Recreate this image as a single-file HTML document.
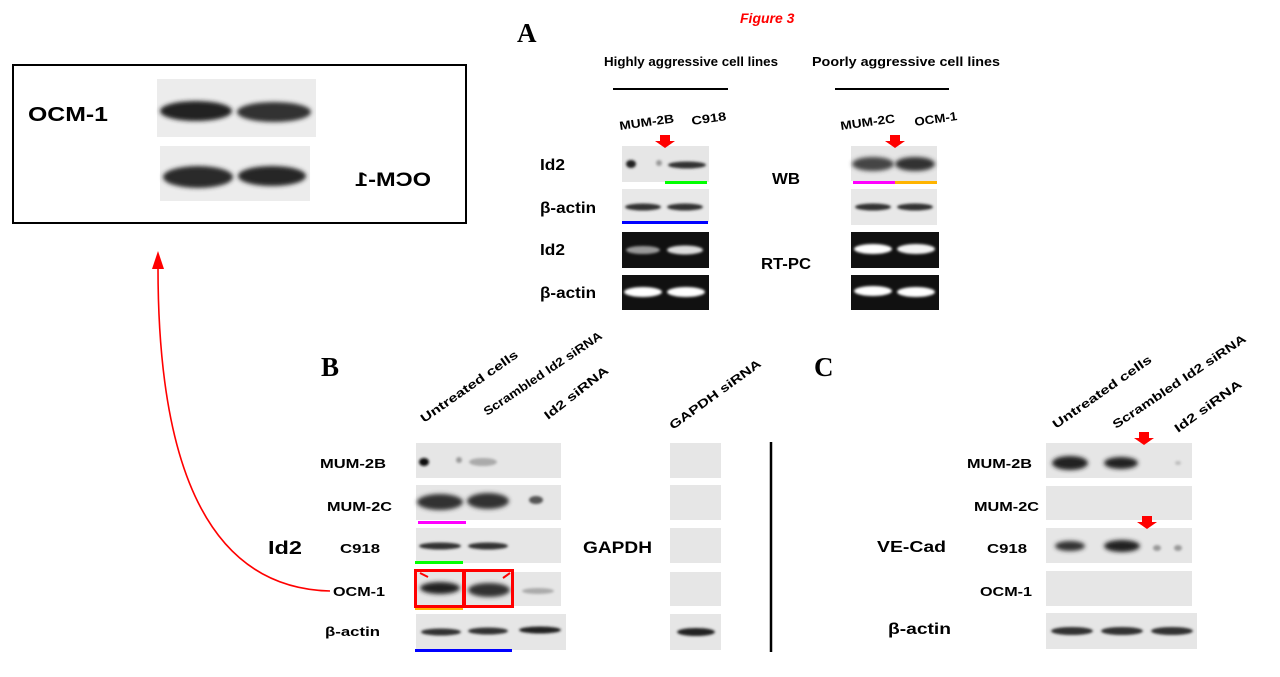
<!DOCTYPE html>
<html><head><meta charset="utf-8"><style>
html,body{margin:0;padding:0;background:#fff;}
svg{display:block;font-family:"Liberation Sans",Arial,sans-serif;font-weight:bold;}
</style></head><body>
<svg width="1280" height="677" viewBox="0 0 1280 677" xmlns="http://www.w3.org/2000/svg">
<defs>
<filter id="b" x="-50%" y="-100%" width="200%" height="300%"><feGaussianBlur stdDeviation="2.2"/></filter>
<filter id="b2" x="-50%" y="-100%" width="200%" height="300%"><feGaussianBlur stdDeviation="1.2"/></filter>
</defs>

<!-- Inset box -->
<rect x="13" y="65" width="453" height="158" fill="none" stroke="#000" stroke-width="2"/>
<rect x="157" y="79" width="159" height="58" fill="#ececec"/>
<ellipse cx="196" cy="111" rx="36" ry="10" fill="#222" filter="url(#b)"/>
<ellipse cx="274" cy="112" rx="37" ry="10" fill="#333" filter="url(#b)"/>
<rect x="160" y="146" width="150" height="55" fill="#ececec"/>
<ellipse cx="198" cy="177" rx="35" ry="11" fill="#2a2a2a" filter="url(#b)"/>
<ellipse cx="272" cy="176" rx="34" ry="10" fill="#262626" filter="url(#b)"/>
<text x="28" y="121" font-size="20" textLength="80" lengthAdjust="spacingAndGlyphs">OCM-1</text>
<text transform="translate(431,186) scale(-1,1)" x="0" y="0" font-size="19" textLength="76" lengthAdjust="spacingAndGlyphs">OCM-1</text>

<!-- red connector -->
<path d="M330,591 C210,588 158,470 158,268" fill="none" stroke="#f00" stroke-width="1.6"/>
<polygon points="152,269 164,269 158,251" fill="#f00"/>

<!-- Panel A -->
<text x="517" y="42" font-size="27" font-family="Liberation Serif,serif">A</text>
<text x="740" y="23" font-size="14" fill="#f00" font-style="italic">Figure 3</text>
<text x="604" y="66" font-size="13" textLength="174" lengthAdjust="spacingAndGlyphs">Highly aggressive cell lines</text>
<text x="812" y="66" font-size="13" textLength="188" lengthAdjust="spacingAndGlyphs">Poorly aggressive cell lines</text>
<line x1="613" y1="89" x2="728" y2="89" stroke="#000" stroke-width="2"/>
<line x1="835" y1="89" x2="949" y2="89" stroke="#000" stroke-width="2"/>
<text x="620" y="130" font-size="12" transform="rotate(-8 620 130)" textLength="55" lengthAdjust="spacingAndGlyphs">MUM-2B</text>
<text x="692" y="125" font-size="12" transform="rotate(-8 692 125)" textLength="35" lengthAdjust="spacingAndGlyphs">C918</text>
<text x="841" y="130" font-size="12" transform="rotate(-8 841 130)" textLength="55" lengthAdjust="spacingAndGlyphs">MUM-2C</text>
<text x="915" y="126" font-size="12" transform="rotate(-8 915 126)" textLength="43" lengthAdjust="spacingAndGlyphs">OCM-1</text>
<text x="540" y="170" font-size="16" textLength="25" lengthAdjust="spacingAndGlyphs">Id2</text>
<text x="540" y="213" font-size="16" textLength="56" lengthAdjust="spacingAndGlyphs">β-actin</text>
<text x="540" y="255" font-size="16" textLength="25" lengthAdjust="spacingAndGlyphs">Id2</text>
<text x="540" y="298" font-size="16" textLength="56" lengthAdjust="spacingAndGlyphs">β-actin</text>
<text x="772" y="184" font-size="16" textLength="28" lengthAdjust="spacingAndGlyphs">WB</text>
<text x="761" y="269" font-size="16" textLength="50" lengthAdjust="spacingAndGlyphs">RT-PC</text>

<rect x="622" y="146" width="87" height="36" fill="#e6e6e6"/>
<ellipse cx="631" cy="164" rx="5" ry="4" fill="#222" filter="url(#b2)"/>
<ellipse cx="659" cy="163" rx="3" ry="3" fill="#999" filter="url(#b2)"/>
<ellipse cx="687" cy="165" rx="19" ry="3.5" fill="#333" filter="url(#b2)"/>
<rect x="665" y="181" width="42" height="3" fill="#0f0"/>
<rect x="622" y="189" width="87" height="33" fill="#e8e8e8"/>
<ellipse cx="643" cy="207" rx="18" ry="3.5" fill="#333" filter="url(#b2)"/>
<ellipse cx="685" cy="207" rx="18" ry="3.5" fill="#333" filter="url(#b2)"/>
<rect x="622" y="221" width="86" height="3" fill="#00f"/>
<rect x="622" y="232" width="87" height="36" fill="#111"/>
<ellipse cx="643" cy="250" rx="17" ry="4" fill="#999" filter="url(#b2)"/>
<ellipse cx="685" cy="250" rx="18" ry="4.5" fill="#ddd" filter="url(#b2)"/>
<rect x="622" y="275" width="87" height="35" fill="#111"/>
<ellipse cx="643" cy="292" rx="19" ry="5" fill="#fff" filter="url(#b2)"/>
<ellipse cx="686" cy="292" rx="19" ry="5" fill="#fff" filter="url(#b2)"/>
<polygon points="660,135 670,135 670,141 675,141 665,148 655,141 660,141" fill="#f00"/>

<rect x="851" y="146" width="86" height="35" fill="#e6e6e6"/>
<ellipse cx="873" cy="164" rx="21" ry="7" fill="#444" filter="url(#b)"/>
<ellipse cx="915" cy="164" rx="20" ry="7" fill="#333" filter="url(#b)"/>
<rect x="853" y="181" width="42" height="3" fill="#f0f"/>
<rect x="895" y="181" width="42" height="3" fill="#ffb400"/>
<rect x="851" y="189" width="86" height="36" fill="#e8e8e8"/>
<ellipse cx="873" cy="207" rx="18" ry="3.5" fill="#333" filter="url(#b2)"/>
<ellipse cx="915" cy="207" rx="18" ry="3.5" fill="#333" filter="url(#b2)"/>
<rect x="851" y="232" width="88" height="36" fill="#111"/>
<ellipse cx="873" cy="249" rx="19" ry="5" fill="#fff" filter="url(#b2)"/>
<ellipse cx="916" cy="249" rx="19" ry="5" fill="#f4f4f4" filter="url(#b2)"/>
<rect x="851" y="275" width="88" height="35" fill="#111"/>
<ellipse cx="873" cy="291" rx="19" ry="5" fill="#fff" filter="url(#b2)"/>
<ellipse cx="916" cy="292" rx="19" ry="5" fill="#fff" filter="url(#b2)"/>
<polygon points="890,135 900,135 900,141 905,141 895,148 885,141 890,141" fill="#f00"/>

<!-- Panel B -->
<text x="321" y="376" font-size="27" font-family="Liberation Serif,serif">B</text>
<g font-size="12">
<text transform="translate(424,423) rotate(-35)" textLength="116" lengthAdjust="spacingAndGlyphs">Untreated cells</text>
<text transform="translate(487,416) rotate(-34)" textLength="140" lengthAdjust="spacingAndGlyphs">Scrambled Id2 siRNA</text>
<text transform="translate(548,420) rotate(-38)" textLength="78" lengthAdjust="spacingAndGlyphs">Id2 siRNA</text>
<text transform="translate(673,430) rotate(-36)" textLength="110" lengthAdjust="spacingAndGlyphs">GAPDH siRNA</text>
</g>
<g font-size="13">
<text x="320" y="468" textLength="66" lengthAdjust="spacingAndGlyphs">MUM-2B</text>
<text x="327" y="511" textLength="65" lengthAdjust="spacingAndGlyphs">MUM-2C</text>
<text x="340" y="553" textLength="40" lengthAdjust="spacingAndGlyphs">C918</text>
<text x="333" y="596" textLength="52" lengthAdjust="spacingAndGlyphs">OCM-1</text>
<text x="325" y="636" textLength="55" lengthAdjust="spacingAndGlyphs">β-actin</text>
</g>
<text x="268" y="554" font-size="18" textLength="34" lengthAdjust="spacingAndGlyphs">Id2</text>
<text x="583" y="553" font-size="17" textLength="69" lengthAdjust="spacingAndGlyphs">GAPDH</text>

<g fill="#e6e6e6">
<rect x="416" y="443" width="145" height="35"/>
<rect x="416" y="485" width="145" height="35"/>
<rect x="416" y="528" width="145" height="35"/>
<rect x="416" y="572" width="145" height="34"/>
<rect x="416" y="614" width="150" height="36"/>
<rect x="670" y="443" width="51" height="35"/>
<rect x="670" y="485" width="51" height="35"/>
<rect x="670" y="528" width="51" height="35"/>
<rect x="670" y="572" width="51" height="34"/>
<rect x="670" y="614" width="51" height="36"/>
</g>
<ellipse cx="424" cy="462" rx="5" ry="4" fill="#111" filter="url(#b2)"/>
<ellipse cx="459" cy="460" rx="3" ry="3" fill="#999" filter="url(#b2)"/>
<ellipse cx="483" cy="462" rx="14" ry="4" fill="#aaa" filter="url(#b2)"/>
<ellipse cx="440" cy="502" rx="23" ry="8" fill="#333" filter="url(#b)"/>
<ellipse cx="488" cy="501" rx="21" ry="8" fill="#333" filter="url(#b)"/>
<ellipse cx="536" cy="500" rx="7" ry="4" fill="#555" filter="url(#b2)"/>
<ellipse cx="440" cy="546" rx="21" ry="3.5" fill="#333" filter="url(#b2)"/>
<ellipse cx="488" cy="546" rx="20" ry="3.5" fill="#333" filter="url(#b2)"/>
<ellipse cx="440" cy="588" rx="20" ry="6" fill="#222" filter="url(#b)"/>
<ellipse cx="489" cy="590" rx="21" ry="7" fill="#333" filter="url(#b)"/>
<ellipse cx="538" cy="591" rx="16" ry="3" fill="#aaa" filter="url(#b2)"/>
<ellipse cx="441" cy="632" rx="20" ry="3.5" fill="#333" filter="url(#b2)"/>
<ellipse cx="488" cy="631" rx="20" ry="3.5" fill="#333" filter="url(#b2)"/>
<ellipse cx="540" cy="630" rx="21" ry="3.5" fill="#222" filter="url(#b2)"/>
<ellipse cx="696" cy="632" rx="19" ry="4" fill="#222" filter="url(#b2)"/>
<rect x="418" y="521" width="48" height="3" fill="#f0f"/>
<rect x="415" y="561" width="48" height="3" fill="#0f0"/>
<rect x="415" y="607" width="48" height="3" fill="#ffb400"/>
<rect x="415" y="649" width="97" height="3" fill="#00f"/>
<rect x="415.5" y="570.5" width="48" height="36" fill="none" stroke="#f00" stroke-width="3"/>
<rect x="464.5" y="570.5" width="48" height="36" fill="none" stroke="#f00" stroke-width="3"/>
<line x1="420" y1="573" x2="428" y2="577" stroke="#f00" stroke-width="2"/>
<line x1="503" y1="578" x2="510" y2="573" stroke="#f00" stroke-width="2"/>
<line x1="771" y1="442" x2="771" y2="652" stroke="#000" stroke-width="2.5"/>

<!-- Panel C -->
<text x="814" y="376" font-size="27" font-family="Liberation Serif,serif">C</text>
<g font-size="12">
<text transform="translate(1056,429) rotate(-35)" textLength="118" lengthAdjust="spacingAndGlyphs">Untreated cells</text>
<text transform="translate(1116,429) rotate(-34)" textLength="158" lengthAdjust="spacingAndGlyphs">Scrambled Id2 siRNA</text>
<text transform="translate(1178,433) rotate(-36)" textLength="80" lengthAdjust="spacingAndGlyphs">Id2 siRNA</text>
</g>
<g font-size="13">
<text x="967" y="468" textLength="65" lengthAdjust="spacingAndGlyphs">MUM-2B</text>
<text x="974" y="511" textLength="65" lengthAdjust="spacingAndGlyphs">MUM-2C</text>
<text x="987" y="553" textLength="40" lengthAdjust="spacingAndGlyphs">C918</text>
<text x="980" y="596" textLength="52" lengthAdjust="spacingAndGlyphs">OCM-1</text>
<text x="888" y="634" font-size="16" textLength="63" lengthAdjust="spacingAndGlyphs">β-actin</text>
</g>
<text x="877" y="552" font-size="16" textLength="69" lengthAdjust="spacingAndGlyphs">VE-Cad</text>
<g fill="#e6e6e6">
<rect x="1046" y="443" width="146" height="35"/>
<rect x="1046" y="486" width="146" height="34"/>
<rect x="1046" y="528" width="146" height="35"/>
<rect x="1046" y="571" width="146" height="35"/>
<rect x="1046" y="613" width="151" height="36"/>
</g>
<ellipse cx="1070" cy="463" rx="18" ry="7" fill="#222" filter="url(#b)"/>
<ellipse cx="1121" cy="463" rx="17" ry="6" fill="#222" filter="url(#b)"/>
<ellipse cx="1178" cy="463" rx="3" ry="2" fill="#bbb" filter="url(#b2)"/>
<ellipse cx="1070" cy="546" rx="15" ry="5" fill="#333" filter="url(#b)"/>
<ellipse cx="1122" cy="546" rx="18" ry="6" fill="#222" filter="url(#b)"/>
<ellipse cx="1157" cy="548" rx="4" ry="3" fill="#999" filter="url(#b2)"/>
<ellipse cx="1178" cy="548" rx="4" ry="3" fill="#999" filter="url(#b2)"/>
<ellipse cx="1072" cy="631" rx="21" ry="4" fill="#333" filter="url(#b2)"/>
<ellipse cx="1122" cy="631" rx="21" ry="4" fill="#333" filter="url(#b2)"/>
<ellipse cx="1172" cy="631" rx="21" ry="4" fill="#333" filter="url(#b2)"/>
<polygon points="1139,432 1149,432 1149,438 1154,438 1144,445 1134,438 1139,438" fill="#f00"/>
<polygon points="1142,516 1152,516 1152,522 1157,522 1147,529 1137,522 1142,522" fill="#f00"/>
</svg>
</body></html>
